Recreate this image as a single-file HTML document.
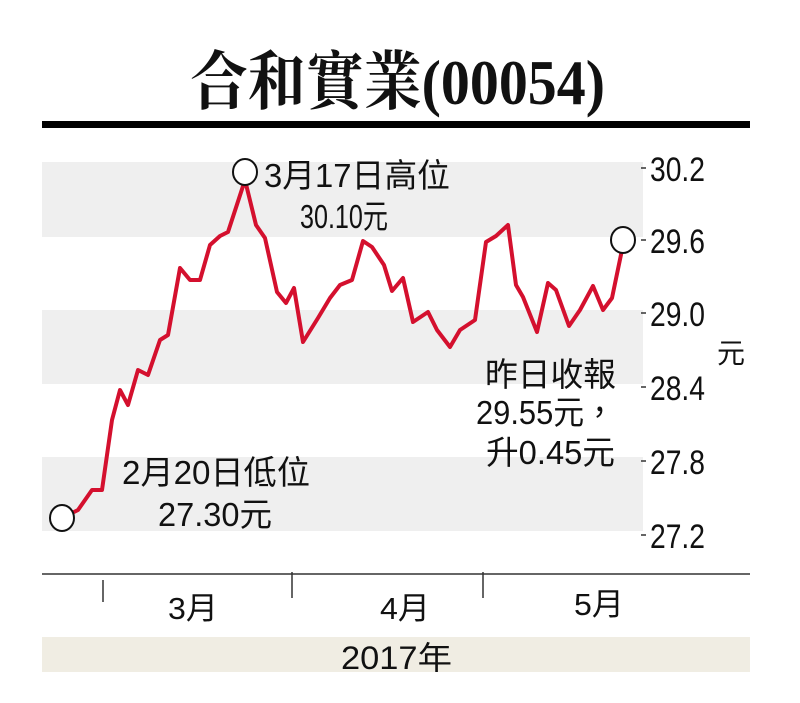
<!DOCTYPE html>
<html><head><meta charset="utf-8"><style>
html,body{margin:0;padding:0;background:#fff;}
body{width:800px;height:703px;overflow:hidden;position:relative;}
svg{position:absolute;left:0;top:0;}
.s{font-family:"Liberation Sans","Noto Sans CJK TC",sans-serif;fill:#111;}
</style></head><body>
<svg width="800" height="703" viewBox="0 0 800 703">
<text x="190" y="104" font-family="Liberation Serif,'Noto Serif CJK SC',serif" font-weight="bold" font-size="64" fill="#111" textLength="415" lengthAdjust="spacingAndGlyphs">合和實業(00054)</text>
<rect x="42" y="121" width="708" height="7" fill="#000"/>
<rect x="42" y="162" width="601" height="75" fill="#efefef"/>
<rect x="42" y="310" width="601" height="74" fill="#efefef"/>
<rect x="42" y="457" width="601" height="74" fill="#efefef"/>
<g stroke="#333" stroke-width="1.5">
<line x1="641" y1="168" x2="646" y2="168"/><line x1="641" y1="240" x2="646" y2="240"/>
<line x1="641" y1="313" x2="646" y2="313"/><line x1="641" y1="387" x2="646" y2="387"/>
<line x1="641" y1="461" x2="646" y2="461"/><line x1="641" y1="535" x2="646" y2="535"/>
</g>
<g class="s" font-size="34">
<text x="650" y="181" textLength="55" lengthAdjust="spacingAndGlyphs">30.2</text>
<text x="650" y="253" textLength="55" lengthAdjust="spacingAndGlyphs">29.6</text>
<text x="650" y="326" textLength="55" lengthAdjust="spacingAndGlyphs">29.0</text>
<text x="650" y="400" textLength="55" lengthAdjust="spacingAndGlyphs">28.4</text>
<text x="650" y="474" textLength="55" lengthAdjust="spacingAndGlyphs">27.8</text>
<text x="650" y="548" textLength="55" lengthAdjust="spacingAndGlyphs">27.2</text>
<text x="717" y="363" font-size="28">元</text>
</g>
<polyline fill="none" stroke="#d4102e" stroke-width="4" stroke-linejoin="round" points="62,518 78,510 92,490 102,490 112,420 120,390 128,405 138,370 148,375 160,340 168,335 180,268 190,280 200,280 210,245 220,236 228,232 245,180 256,225 265,238 277,292 286,303 294,288 303,342 318,318 330,298 340,285 352,280 363,241 372,247 384,265 392,291 403,278 413,322 428,312 437,330 450,347 460,330 475,320 486,242 496,236 508,225 516,285 523,297 537,332 548,283 556,290 569,326 580,310 593,286 603,310 612,298 623,245"/>
<g fill="#fff" stroke="#111" stroke-width="2">
<ellipse cx="62" cy="518" rx="12" ry="13"/>
<ellipse cx="245" cy="172" rx="12" ry="13"/>
<ellipse cx="623" cy="240" rx="12" ry="13"/>
</g>
<g class="s" font-size="33">
<text x="264" y="187" textLength="186" lengthAdjust="spacingAndGlyphs">3月17日高位</text>
<text x="300" y="228" textLength="88" lengthAdjust="spacingAndGlyphs">30.10元</text>
<text x="122" y="484" textLength="188" lengthAdjust="spacingAndGlyphs">2月20日低位</text>
<text x="158" y="526" textLength="114" lengthAdjust="spacingAndGlyphs">27.30元</text>
<text x="485" y="386" textLength="131" lengthAdjust="spacingAndGlyphs">昨日收報</text>
<text x="476" y="424" textLength="139" lengthAdjust="spacingAndGlyphs">29.55元，</text>
<text x="486" y="464" textLength="129" lengthAdjust="spacingAndGlyphs">升0.45元</text>
</g>
<line x1="42" y1="574" x2="750" y2="574" stroke="#333" stroke-width="1.5"/>
<g stroke="#333" stroke-width="1.5">
<line x1="103" y1="580" x2="103" y2="602"/>
<line x1="292" y1="572" x2="292" y2="598"/>
<line x1="483" y1="572" x2="483" y2="598"/>
</g>
<g class="s" font-size="31">
<text x="168" y="619" textLength="50" lengthAdjust="spacingAndGlyphs">3月</text>
<text x="380" y="619" textLength="50" lengthAdjust="spacingAndGlyphs">4月</text>
<text x="574" y="615" textLength="50" lengthAdjust="spacingAndGlyphs">5月</text>
</g>
<rect x="42" y="637" width="708" height="35" fill="#f0ede3"/>
<text class="s" x="341" y="669" font-size="32" textLength="111" lengthAdjust="spacingAndGlyphs">2017年</text>
</svg>
</body></html>
